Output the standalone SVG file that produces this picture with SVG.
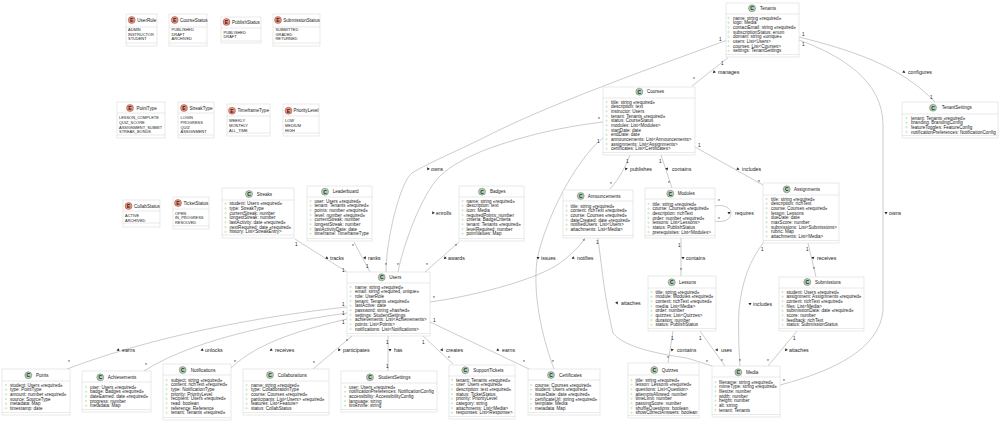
<svg xmlns="http://www.w3.org/2000/svg" width="1000" height="422" viewBox="0 0 1000 422">
<style>
text{font-family:"Liberation Sans",Arial,sans-serif;fill:#222}
.b{fill:#fff;stroke:#cfcfcf;stroke-width:.45}
.s{fill:none;stroke:#cfcfcf;stroke-width:.45}
.n{font-size:4.55px}
.r{font-size:4.57px}
.e{font-size:3.95px}
.ci{fill:#ADD1B2;stroke:#555;stroke-width:.4}
.ei{fill:#EB937F;stroke:#8a2a2a;stroke-width:.4}
.l{font-size:5px;font-weight:bold;text-anchor:middle}
.c path{fill:none;stroke:#8c8c8c;stroke-width:.45}
.m{font-size:4.7px}
.t{font-size:5.2px}
.mk{fill:none;stroke:#84BE84;stroke-width:.35}
.a{fill:#222}
</style>
<defs>
<circle id="c1" class="mk" r=".75"/>
<g id="r2"><use href="#c1"/><use href="#c1" y="4.67"/></g>
<g id="r4"><use href="#r2"/><use href="#r2" y="9.34"/></g>
<g id="r5"><use href="#r4"/><use href="#c1" y="18.68"/></g>
<g id="r6"><use href="#r4"/><use href="#r2" y="18.68"/></g>
<g id="r7"><use href="#r6"/><use href="#c1" y="28.02"/></g>
<g id="r8"><use href="#r4"/><use href="#r4" y="18.68"/></g>
<g id="r9"><use href="#r8"/><use href="#c1" y="37.36"/></g>
<g id="r10"><use href="#r8"/><use href="#r2" y="37.36"/></g>
<g id="r11"><use href="#r10"/><use href="#c1" y="46.7"/></g>
<polygon id="t" class="a" points="0,-1.6 1.5,1.1 -1.5,1.1"/>
</defs>
<rect width="1000" height="422" fill="#fff"/>
<g id="connectors" class="c">
<path d="M728 57.7L692 86"/>
<path d="M726 40.5C660 65 560 100 493 133C460 150 430 162 412 173C400 182 386 240 386 272"/>
<path d="M603 122C560 127 525 136 493 147C470 155 450 166 440 176C420 196 402 250 398 272"/>
<path d="M459 242L425 272"/>
<path d="M295 239L347 272"/>
<path d="M354 242L370 272"/>
<path d="M347 307C290 313 170 330 67 369"/>
<path d="M347 313C300 320 200 335 144 371"/>
<path d="M347 319C310 328 260 340 231 368"/>
<path d="M352 336L313 369"/>
<path d="M388 336V371"/>
<path d="M423 336L453 364"/>
<path d="M430 322L529 369"/>
<path d="M430 302C480 295 540 278 560 263C572 254 580 246 585 238"/>
<path d="M630 155C626 165 620 178 610 189"/>
<path d="M661 155L672 188"/>
<path d="M695 147L763 185"/>
<path d="M603 138C575 160 545 220 537 260C532 300 545 345 554 369"/>
<path d="M598 238C602 270 605 300 613 333C622 345 650 353 687 358L712 366"/>
<path d="M715 206C724 204 731 208 731 213.500C731 219 724 223 715 221"/>
<path d="M681 238V276"/>
<path d="M764 242C750 260 742 280 739 310C738 330 739 350 740 366"/>
<path d="M808 243L816 277"/>
<path d="M797 331L768 366"/>
<path d="M673 331L668 363"/>
<path d="M700 331L725 366"/>
<path d="M799 37C850 50 900 65 935 102"/>
<path d="M799 40C840 55 883 80 883 125V310C880 350 830 372 780 385"/>
<g class="mt">
<text class="m" x="721" y="65">1</text><text class="m" x="693" y="81">*</text>
<text class="m" x="719" y="41">1</text><text class="m" x="385" y="267">*</text>
<text class="m" x="598" y="121">*</text><text class="m" x="397" y="267">*</text>
<text class="m" x="455" y="248">*</text><text class="m" x="426" y="267">*</text>
<text class="m" x="295" y="246">1</text><text class="m" x="342" y="272">1</text>
<text class="m" x="352" y="248">*</text><text class="m" x="366" y="268">1</text>
<text class="m" x="342" y="306">1</text><text class="m" x="68" y="364">*</text>
<text class="m" x="342" y="315">1</text><text class="m" x="145" y="367">*</text>
<text class="m" x="342" y="324">1</text><text class="m" x="234" y="364">*</text>
<text class="m" x="346" y="343">*</text><text class="m" x="313" y="365">*</text>
<text class="m" x="386" y="344">1</text><text class="m" x="386" y="368">1</text>
<text class="m" x="422" y="344">1</text><text class="m" x="448" y="360">*</text>
<text class="m" x="433" y="322">1</text><text class="m" x="523" y="364">*</text>
<text class="m" x="433" y="300">*</text><text class="m" x="583" y="243">*</text>
<text class="m" x="626" y="163">1</text><text class="m" x="610" y="186">*</text>
<text class="m" x="659" y="163">1</text><text class="m" x="668" y="185">*</text>
<text class="m" x="698" y="147">1</text><text class="m" x="758" y="184">*</text>
<text class="m" x="597" y="143">1</text><text class="m" x="552" y="364">*</text>
<text class="m" x="596" y="244">1</text><text class="m" x="706" y="364">*</text>
<text class="m" x="718" y="203">*</text><text class="m" x="718" y="221">*</text>
<text class="m" x="678" y="247">1</text><text class="m" x="680" y="272">*</text>
<text class="m" x="761" y="251">1</text><text class="m" x="739" y="363">*</text>
<text class="m" x="806" y="251">1</text><text class="m" x="813" y="271">*</text>
<text class="m" x="793" y="340">1</text><text class="m" x="767" y="363">*</text>
<text class="m" x="671" y="340">1</text><text class="m" x="667" y="360">*</text>
<text class="m" x="699" y="340">1</text><text class="m" x="721" y="363">*</text>
<text class="m" x="802" y="36">1</text><text class="m" x="930" y="99">1</text>
<text class="m" x="802" y="46">1</text><text class="m" x="783" y="383">*</text>
</g>
<g class="lb">
<use href="#t" transform="translate(714 72) rotate(225)"/><text class="t" x="718" y="73.800">manages</text>
<use href="#t" transform="translate(428 169) rotate(215)"/><text class="t" x="431" y="170.800">owns</text>
<use href="#t" transform="translate(433 213) rotate(215)"/><text class="t" x="436" y="214.800">enrolls</text>
<use href="#t" transform="translate(445 258) rotate(225)"/><text class="t" x="448" y="259.800">awards</text>
<use href="#t" transform="translate(327 258) rotate(125)"/><text class="t" x="330" y="259.800">tracks</text>
<use href="#t" transform="translate(365 258) rotate(155)"/><text class="t" x="368" y="259.800">ranks</text>
<use href="#t" transform="translate(118 350) rotate(250)"/><text class="t" x="122" y="351.800">earns</text>
<use href="#t" transform="translate(202 350) rotate(250)"/><text class="t" x="205" y="351.800">unlocks</text>
<use href="#t" transform="translate(271 350) rotate(235)"/><text class="t" x="275" y="351.800">receives</text>
<use href="#t" transform="translate(339 350) rotate(220)"/><text class="t" x="343" y="351.800">participates</text>
<use href="#t" transform="translate(390 350) rotate(180)"/><text class="t" x="394" y="351.800">has</text>
<use href="#t" transform="translate(442 350) rotate(145)"/><text class="t" x="446" y="351.800">creates</text>
<use href="#t" transform="translate(498 350) rotate(120)"/><text class="t" x="502" y="351.800">earns</text>
<use href="#t" transform="translate(573 258) rotate(240)"/><text class="t" x="577" y="259.800">notifies</text>
<use href="#t" transform="translate(626 169) rotate(200)"/><text class="t" x="630" y="170.800">publishes</text>
<use href="#t" transform="translate(667 169) rotate(160)"/><text class="t" x="672" y="170.800">contains</text>
<use href="#t" transform="translate(738 169) rotate(120)"/><text class="t" x="742" y="170.800">includes</text>
<use href="#t" transform="translate(538 258) rotate(180)"/><text class="t" x="541" y="259.800">issues</text>
<use href="#t" transform="translate(617 303) rotate(150)"/><text class="t" x="621" y="304.800">attaches</text>
<use href="#t" transform="translate(729 213) rotate(180)"/><text class="t" x="735" y="214.800">requires</text>
<use href="#t" transform="translate(683 258) rotate(180)"/><text class="t" x="686" y="259.800">contains</text>
<use href="#t" transform="translate(750 304) rotate(180)"/><text class="t" x="753" y="305.800">includes</text>
<use href="#t" transform="translate(813 258) rotate(170)"/><text class="t" x="817" y="259.800">receives</text>
<use href="#t" transform="translate(786 350) rotate(220)"/><text class="t" x="789" y="351.800">attaches</text>
<use href="#t" transform="translate(672 350) rotate(190)"/><text class="t" x="677" y="351.800">contains</text>
<use href="#t" transform="translate(717 350) rotate(145)"/><text class="t" x="721" y="351.800">uses</text>
<use href="#t" transform="translate(904 72) rotate(125)"/><text class="t" x="908" y="73.800">configures</text>
<use href="#t" transform="translate(886 213) rotate(180)"/><text class="t" x="889" y="214.800">owns</text>
</g>
</g>

<g id="UserRole"><rect class="b" x="126" y="14" width="31" height="32"/><path class="s" d="M126 27H157M126 43H157"/><circle class="ei" cx="131.700" cy="20" r="3.500"/><text class="l" x="131.700" y="21.800">E</text><text class="n" x="137.300" y="21.600">UserRole</text><text class="e"><tspan x="128" y="31">ADMIN</tspan><tspan x="128" dy="4.67">INSTRUCTOR</tspan><tspan x="128" dy="4.67">STUDENT</tspan></text></g>
<g id="CourseStatus"><rect class="b" x="169" y="14" width="38" height="32"/><path class="s" d="M169 27H207M169 43H207"/><circle class="ei" cx="174.700" cy="20" r="3.500"/><text class="l" x="174.700" y="21.800">E</text><text class="n" x="180" y="21.600">CourseStatus</text><text class="e"><tspan x="171.500" y="31">PUBLISHED</tspan><tspan x="171.500" dy="4.67">DRAFT</tspan><tspan x="171.500" dy="4.67">ARCHIVED</tspan></text></g>
<g id="PublishStatus"><rect class="b" x="221" y="17" width="40" height="26"/><path class="s" d="M221 28H261M221 41H261"/><circle class="ei" cx="226.500" cy="22" r="3.500"/><text class="l" x="226.500" y="23.800">E</text><text class="n" x="232" y="23.600">PublishStatus</text><text class="e"><tspan x="223.500" y="33.800">PUBLISHED</tspan><tspan x="223.500" dy="4.67">DRAFT</tspan></text></g>
<g id="SubmissionStatus"><rect class="b" x="273" y="14" width="47" height="32"/><path class="s" d="M273 27H320M273 43H320"/><circle class="ei" cx="278" cy="20" r="3.500"/><text class="l" x="278" y="21.800">E</text><text class="n" x="283.300" y="21.600">SubmissionStatus</text><text class="e"><tspan x="275.500" y="31">SUBMITTED</tspan><tspan x="275.500" dy="4.67">GRADED</tspan><tspan x="275.500" dy="4.67">RETURNED</tspan></text></g>
<g id="PointType"><rect class="b" x="117" y="102" width="48" height="36"/><path class="s" d="M117 113H165M117 135H165"/><circle class="ei" cx="130" cy="108" r="3.500"/><text class="l" x="130" y="109.800">E</text><text class="n" x="136.500" y="109.600">PointType</text><text class="e"><tspan x="119" y="119.200">LESSON_COMPLETE</tspan><tspan x="119" dy="4.67">QUIZ_SCORE</tspan><tspan x="119" dy="4.67">ASSIGNMENT_SUBMIT</tspan><tspan x="119" dy="4.67">STREAK_BONUS</tspan></text></g>
<g id="StreakType"><rect class="b" x="178" y="102" width="36" height="36"/><path class="s" d="M178 113H214M178 135H214"/><circle class="ei" cx="184" cy="108" r="3.500"/><text class="l" x="184" y="109.800">E</text><text class="n" x="189.500" y="109.600">StreakType</text><text class="e"><tspan x="180.500" y="119.200">LOGIN</tspan><tspan x="180.500" dy="4.67">PROGRESS</tspan><tspan x="180.500" dy="4.67">QUIZ</tspan><tspan x="180.500" dy="4.67">ASSIGNMENT</tspan></text></g>
<g id="TimeframeType"><rect class="b" x="227" y="104" width="43" height="32"/><path class="s" d="M227 116H270M227 133H270"/><circle class="ei" cx="232" cy="110.700" r="3.500"/><text class="l" x="232" y="112.500">E</text><text class="n" x="237.500" y="112.300">TimeframeType</text><text class="e"><tspan x="229" y="122.200">WEEKLY</tspan><tspan x="229" dy="4.67">MONTHLY</tspan><tspan x="229" dy="4.67">ALL_TIME</tspan></text></g>
<g id="PriorityLevel"><rect class="b" x="283" y="104" width="36" height="32"/><path class="s" d="M283 116H319M283 133H319"/><circle class="ei" cx="288.500" cy="110.700" r="3.500"/><text class="l" x="288.500" y="112.500">E</text><text class="n" x="293.500" y="112.300">PriorityLevel</text><text class="e"><tspan x="285" y="122.200">LOW</tspan><tspan x="285" dy="4.67">MEDIUM</tspan><tspan x="285" dy="4.67">HIGH</tspan></text></g>
<g id="CollabStatus"><rect class="b" x="123" y="200" width="37" height="27"/><path class="s" d="M123 211H160M123 223H160"/><circle class="ei" cx="128.500" cy="206" r="3.500"/><text class="l" x="128.500" y="207.800">E</text><text class="n" x="134" y="207.600">CollabStatus</text><text class="e"><tspan x="125" y="217.200">ACTIVE</tspan><tspan x="125" dy="4.67">ARCHIVED</tspan></text></g>
<g id="TicketStatus"><rect class="b" x="173" y="197" width="36" height="32"/><path class="s" d="M173 209H209M173 226H209"/><circle class="ei" cx="178" cy="203" r="3.500"/><text class="l" x="178" y="204.800">E</text><text class="n" x="183.500" y="204.600">TicketStatus</text><text class="e"><tspan x="175" y="214.800">OPEN</tspan><tspan x="175" dy="4.67">IN_PROGRESS</tspan><tspan x="175" dy="4.67">RESOLVED</tspan></text></g>

<g id="Tenants"><rect class="b" x="726" y="3" width="73" height="54"/><path class="s" d="M726 14H799M726 54.500H799"/><circle class="ci" cx="752" cy="8.300" r="3.500"/><text class="l" x="752" y="10.100">C</text><text class="n" x="760" y="9.900">Tenants</text><use href="#r8" x="728.500" y="18"/><text class="r"><tspan x="733" y="19.600">name: string «required»</tspan><tspan x="733" dy="4.67">logo: Media</tspan><tspan x="733" dy="4.67">contactEmail: string «required»</tspan><tspan x="733" dy="4.67">subscriptionStatus: enum</tspan><tspan x="733" dy="4.67">domain: string «unique»</tspan><tspan x="733" dy="4.67">users: List&lt;Users&gt;</tspan><tspan x="733" dy="4.67">courses: List&lt;Courses&gt;</tspan><tspan x="733" dy="4.67">settings: TenantSettings</tspan></text></g>
<g id="Courses"><rect class="b" x="603" y="87" width="92" height="68"/><path class="s" d="M603 98H695M603 152.500H695"/><circle class="ci" cx="639.300" cy="91.700" r="3.500"/><text class="l" x="639.300" y="93.500">C</text><text class="n" x="647" y="93.300">Courses</text><use href="#r11" x="606.500" y="102"/><text class="r"><tspan x="611" y="103.600">title: string «required»</tspan><tspan x="611" dy="4.67">description: text</tspan><tspan x="611" dy="4.67">instructor: Users</tspan><tspan x="611" dy="4.67">tenant: Tenants «required»</tspan><tspan x="611" dy="4.67">status: CourseStatus</tspan><tspan x="611" dy="4.67">modules: List&lt;Modules&gt;</tspan><tspan x="611" dy="4.67">startDate: date</tspan><tspan x="611" dy="4.67">endDate: date</tspan><tspan x="611" dy="4.67">announcements: List&lt;Announcements&gt;</tspan><tspan x="611" dy="4.67">assignments: List&lt;Assignments&gt;</tspan><tspan x="611" dy="4.67">certificates: List&lt;Certificates&gt;</tspan></text></g>
<g id="TenantSettings"><rect class="b" x="902" y="102" width="96" height="36"/><path class="s" d="M902 114H998M902 135.500H998"/><circle class="ci" cx="933" cy="107.700" r="3.500"/><text class="l" x="933" y="109.500">C</text><text class="n" x="941.700" y="109.300">TenantSettings</text><use href="#r4" x="906.500" y="118"/><text class="r"><tspan x="911" y="119.600">tenant: Tenants «required»</tspan><tspan x="911" dy="4.67">branding: BrandingConfig</tspan><tspan x="911" dy="4.67">featureToggles: FeatureConfig</tspan><tspan x="911" dy="4.67">notificationPreferences: NotificationConfig</tspan></text></g>
<g id="Announcements"><rect class="b" x="563" y="190" width="70" height="48"/><path class="s" d="M563 201H633M563 235.500H633"/><circle class="ci" cx="580.700" cy="196" r="3.500"/><text class="l" x="580.700" y="197.800">C</text><text class="n" x="587.700" y="197.600">Announcements</text><use href="#r6" x="566.500" y="206"/><text class="r"><tspan x="570.500" y="207.600">title: string «required»</tspan><tspan x="570.500" dy="4.67">content: richText «required»</tspan><tspan x="570.500" dy="4.67">course: Courses «required»</tspan><tspan x="570.500" dy="4.67">dateCreated: date «required»</tspan><tspan x="570.500" dy="4.67">notifiedUsers: List&lt;Users&gt;</tspan><tspan x="570.500" dy="4.67">attachments: List&lt;Media&gt;</tspan></text></g>
<g id="Modules"><rect class="b" x="645" y="188" width="70" height="50"/><path class="s" d="M645 199H715M645 235.500H715"/><circle class="ci" cx="670.300" cy="193.700" r="3.500"/><text class="l" x="670.300" y="195.500">C</text><text class="n" x="677.700" y="195.300">Modules</text><use href="#r7" x="648.500" y="204"/><text class="r"><tspan x="652.500" y="205.600">title: string «required»</tspan><tspan x="652.500" dy="4.67">course: Courses «required»</tspan><tspan x="652.500" dy="4.67">description: richText</tspan><tspan x="652.500" dy="4.67">order: number «required»</tspan><tspan x="652.500" dy="4.67">lessons: List&lt;Lessons&gt;</tspan><tspan x="652.500" dy="4.67">status: PublishStatus</tspan><tspan x="652.500" dy="4.67">prerequisites: List&lt;Modules&gt;</tspan></text></g>
<g id="Assignments"><rect class="b" x="763" y="183" width="76" height="60"/><path class="s" d="M763 195H839M763 240.500H839"/><circle class="ci" cx="786.700" cy="189.300" r="3.500"/><text class="l" x="786.700" y="191.100">C</text><text class="n" x="794" y="190.900">Assignments</text><use href="#r9" x="766.500" y="199"/><text class="r"><tspan x="771" y="200.600">title: string «required»</tspan><tspan x="771" dy="4.67">description: richText</tspan><tspan x="771" dy="4.67">course: Courses «required»</tspan><tspan x="771" dy="4.67">lesson: Lessons</tspan><tspan x="771" dy="4.67">dueDate: date</tspan><tspan x="771" dy="4.67">maxScore: number</tspan><tspan x="771" dy="4.67">submissions: List&lt;Submissions&gt;</tspan><tspan x="771" dy="4.67">rubric: Map</tspan><tspan x="771" dy="4.67">attachments: List&lt;Media&gt;</tspan></text></g>
<g id="Lessons"><rect class="b" x="648" y="276" width="68" height="55"/><path class="s" d="M648 288H716M648 328.500H716"/><circle class="ci" cx="671.700" cy="282.300" r="3.500"/><text class="l" x="671.700" y="284.100">C</text><text class="n" x="679" y="283.900">Lessons</text><use href="#r8" x="651.500" y="292"/><text class="r"><tspan x="655.500" y="293.600">title: string «required»</tspan><tspan x="655.500" dy="4.67">module: Modules «required»</tspan><tspan x="655.500" dy="4.67">content: richText «required»</tspan><tspan x="655.500" dy="4.67">media: List&lt;Media&gt;</tspan><tspan x="655.500" dy="4.67">order: number</tspan><tspan x="655.500" dy="4.67">quizzes: List&lt;Quizzes&gt;</tspan><tspan x="655.500" dy="4.67">duration: number</tspan><tspan x="655.500" dy="4.67">status: PublishStatus</tspan></text></g>
<g id="Submissions"><rect class="b" x="779" y="277" width="85" height="54"/><path class="s" d="M779 288H864M779 328.500H864"/><circle class="ci" cx="807.300" cy="282" r="3.500"/><text class="l" x="807.300" y="283.800">C</text><text class="n" x="815" y="283.600">Submissions</text><use href="#r8" x="782.500" y="292"/><text class="r"><tspan x="786.500" y="293.600">student: Users «required»</tspan><tspan x="786.500" dy="4.67">assignment: Assignments «required»</tspan><tspan x="786.500" dy="4.67">content: richText «required»</tspan><tspan x="786.500" dy="4.67">files: List&lt;Media&gt;</tspan><tspan x="786.500" dy="4.67">submissionDate: date «required»</tspan><tspan x="786.500" dy="4.67">score: number</tspan><tspan x="786.500" dy="4.67">feedback: richText</tspan><tspan x="786.500" dy="4.67">status: SubmissionStatus</tspan></text></g>
<g id="Media"><rect class="b" x="712" y="366" width="68" height="51"/><path class="s" d="M712 377H780M712 414.500H780"/><circle class="ci" cx="738.300" cy="372.300" r="3.500"/><text class="l" x="738.300" y="374.100">C</text><text class="n" x="746" y="373.900">Media</text><use href="#r7" x="715.500" y="382"/><text class="r"><tspan x="719" y="383.600">filename: string «required»</tspan><tspan x="719" dy="4.67">mimeType: string «required»</tspan><tspan x="719" dy="4.67">filesize: number</tspan><tspan x="719" dy="4.67">width: number</tspan><tspan x="719" dy="4.67">height: number</tspan><tspan x="719" dy="4.67">alt: string</tspan><tspan x="719" dy="4.67">tenant: Tenants</tspan></text></g>
<g id="Quizzes"><rect class="b" x="628" y="363" width="71" height="55"/><path class="s" d="M628 375H699M628 415.500H699"/><circle class="ci" cx="654.300" cy="370" r="3.500"/><text class="l" x="654.300" y="371.800">C</text><text class="n" x="661.700" y="371.600">Quizzes</text><use href="#r8" x="631.500" y="380"/><text class="r"><tspan x="635.500" y="381.600">title: string «required»</tspan><tspan x="635.500" dy="4.67">lesson: Lessons «required»</tspan><tspan x="635.500" dy="4.67">questions: List&lt;Question&gt;</tspan><tspan x="635.500" dy="4.67">attemptsAllowed: number</tspan><tspan x="635.500" dy="4.67">timeLimit: number</tspan><tspan x="635.500" dy="4.67">passingScore: number</tspan><tspan x="635.500" dy="4.67">shuffleQuestions: boolean</tspan><tspan x="635.500" dy="4.67">showCorrectAnswers: boolean</tspan></text></g>
<g id="Points"><rect class="b" x="2" y="369" width="68" height="46"/><path class="s" d="M2 381H70M2 412.500H70"/><circle class="ci" cx="28.300" cy="375.300" r="3.500"/><text class="l" x="28.300" y="377.100">C</text><text class="n" x="36" y="376.900">Points</text><use href="#r6" x="6" y="385"/><text class="r"><tspan x="10" y="386.600">student: Users «required»</tspan><tspan x="10" dy="4.67">type: PointType</tspan><tspan x="10" dy="4.67">amount: number «required»</tspan><tspan x="10" dy="4.67">source: SourceType</tspan><tspan x="10" dy="4.67">metadata: Map</tspan><tspan x="10" dy="4.67">timestamp: date</tspan></text></g>
<g id="Achievements"><rect class="b" x="82" y="371" width="69" height="41"/><path class="s" d="M82 382H151M82 409.500H151"/><circle class="ci" cx="100.300" cy="377.300" r="3.500"/><text class="l" x="100.300" y="379.100">C</text><text class="n" x="107.700" y="378.900">Achievements</text><use href="#r5" x="86" y="387"/><text class="r"><tspan x="90" y="388.600">user: Users «required»</tspan><tspan x="90" dy="4.67">badge: Badges «required»</tspan><tspan x="90" dy="4.67">dateEarned: date «required»</tspan><tspan x="90" dy="4.67">progress: number</tspan><tspan x="90" dy="4.67">metadata: Map</tspan></text></g>
<g id="Notifications"><rect class="b" x="163" y="364" width="68" height="56"/><path class="s" d="M163 375H231M163 417.500H231"/><circle class="ci" cx="182.700" cy="370" r="3.500"/><text class="l" x="182.700" y="371.800">C</text><text class="n" x="190.700" y="371.600">Notifications</text><use href="#r8" x="166.500" y="380"/><text class="r"><tspan x="171" y="381.600">subject: string «required»</tspan><tspan x="171" dy="4.67">content: richText «required»</tspan><tspan x="171" dy="4.67">type: NotificationType</tspan><tspan x="171" dy="4.67">priority: PriorityLevel</tspan><tspan x="171" dy="4.67">recipient: Users «required»</tspan><tspan x="171" dy="4.67">read: boolean</tspan><tspan x="171" dy="4.67">reference: Reference</tspan><tspan x="171" dy="4.67">tenant: Tenants «required»</tspan></text></g>
<g id="Collaborations"><rect class="b" x="243" y="369" width="86" height="46"/><path class="s" d="M243 381H329M243 412.500H329"/><circle class="ci" cx="270" cy="375" r="3.500"/><text class="l" x="270" y="376.800">C</text><text class="n" x="277.700" y="376.600">Collaborations</text><use href="#r6" x="246.500" y="385"/><text class="r"><tspan x="251" y="386.600">name: string «required»</tspan><tspan x="251" dy="4.67">type: CollaborationType</tspan><tspan x="251" dy="4.67">course: Courses «required»</tspan><tspan x="251" dy="4.67">participants: List&lt;Users&gt; «required»</tspan><tspan x="251" dy="4.67">features: List&lt;Feature&gt;</tspan><tspan x="251" dy="4.67">status: CollabStatus</tspan></text></g>
<g id="StudentSettings"><rect class="b" x="341" y="371" width="96" height="41"/><path class="s" d="M341 383H437M341 409.500H437"/><circle class="ci" cx="370" cy="377.300" r="3.500"/><text class="l" x="370" y="379.100">C</text><text class="n" x="378.300" y="378.900">StudentSettings</text><use href="#r5" x="345" y="387"/><text class="r"><tspan x="349" y="388.600">user: Users «required»</tspan><tspan x="349" dy="4.67">notificationPreferences: NotificationConfig</tspan><tspan x="349" dy="4.67">accessibility: AccessibilityConfig</tspan><tspan x="349" dy="4.67">language: string</tspan><tspan x="349" dy="4.67">timezone: string</tspan></text></g>
<g id="SupportTickets"><rect class="b" x="449" y="365" width="66" height="54"/><path class="s" d="M449 376H515M449 416.500H515"/><circle class="ci" cx="465.300" cy="370.300" r="3.500"/><text class="l" x="465.300" y="372.100">C</text><text class="n" x="473.300" y="371.900">SupportTickets</text><use href="#r8" x="452" y="380"/><text class="r"><tspan x="456" y="381.600">tenant: Tenants «required»</tspan><tspan x="456" dy="4.67">user: Users «required»</tspan><tspan x="456" dy="4.67">description: text «required»</tspan><tspan x="456" dy="4.67">status: TicketStatus</tspan><tspan x="456" dy="4.67">priority: PriorityLevel</tspan><tspan x="456" dy="4.67">category: string</tspan><tspan x="456" dy="4.67">attachments: List&lt;Media&gt;</tspan><tspan x="456" dy="4.67">responses: List&lt;Response&gt;</tspan></text></g>
<g id="Certificates"><rect class="b" x="528" y="369" width="72" height="46"/><path class="s" d="M528 380H600M528 412.500H600"/><circle class="ci" cx="551" cy="375" r="3.500"/><text class="l" x="551" y="376.800">C</text><text class="n" x="559" y="376.600">Certificates</text><use href="#r6" x="531" y="385"/><text class="r"><tspan x="535" y="386.600">course: Courses «required»</tspan><tspan x="535" dy="4.67">student: Users «required»</tspan><tspan x="535" dy="4.67">issueDate: date «required»</tspan><tspan x="535" dy="4.67">certificateUrl: string «required»</tspan><tspan x="535" dy="4.67">template: Media</tspan><tspan x="535" dy="4.67">metadata: Map</tspan></text></g>
<g id="Users"><rect class="b" x="347" y="272" width="83" height="64"/><path class="s" d="M347 283H430M347 333.500H430"/><circle class="ci" cx="381.700" cy="277.300" r="3.500"/><text class="l" x="381.700" y="279.100">C</text><text class="n" x="389.300" y="278.900">Users</text><use href="#r10" x="350.500" y="287"/><text class="r"><tspan x="355" y="288.600">name: string «required»</tspan><tspan x="355" dy="4.67">email: string «required, unique»</tspan><tspan x="355" dy="4.67">role: UserRole</tspan><tspan x="355" dy="4.67">tenant: Tenants «required»</tspan><tspan x="355" dy="4.67">lastActive: date</tspan><tspan x="355" dy="4.67">password: string «hashed»</tspan><tspan x="355" dy="4.67">settings: StudentSettings</tspan><tspan x="355" dy="4.67">achievements: List&lt;Achievements&gt;</tspan><tspan x="355" dy="4.67">points: List&lt;Points&gt;</tspan><tspan x="355" dy="4.67">notifications: List&lt;Notifications&gt;</tspan></text></g>
<g id="Streaks"><rect class="b" x="222" y="188" width="72" height="50"/><path class="s" d="M222 200H294M222 235H294"/><circle class="ci" cx="249" cy="194" r="3.500"/><text class="l" x="249" y="195.800">C</text><text class="n" x="256.700" y="195.600">Streaks</text><use href="#r7" x="225.500" y="203.700"/><text class="r"><tspan x="229.500" y="205.300">student: Users «required»</tspan><tspan x="229.500" dy="4.67">type: StreakType</tspan><tspan x="229.500" dy="4.67">currentStreak: number</tspan><tspan x="229.500" dy="4.67">longestStreak: number</tspan><tspan x="229.500" dy="4.67">lastActivity: date «required»</tspan><tspan x="229.500" dy="4.67">nextRequired: date «required»</tspan><tspan x="229.500" dy="4.67">history: List&lt;StreakEntry&gt;</tspan></text></g>
<g id="Leaderboard"><rect class="b" x="307" y="186" width="65" height="55"/><path class="s" d="M307 197H372M307 238.500H372"/><circle class="ci" cx="325" cy="191.700" r="3.500"/><text class="l" x="325" y="193.500">C</text><text class="n" x="332.700" y="193.300">Leaderboard</text><use href="#r8" x="310.500" y="201"/><text class="r"><tspan x="314.500" y="202.600">user: Users «required»</tspan><tspan x="314.500" dy="4.67">tenant: Tenants «required»</tspan><tspan x="314.500" dy="4.67">points: number «required»</tspan><tspan x="314.500" dy="4.67">level: number «required»</tspan><tspan x="314.500" dy="4.67">currentStreak: number</tspan><tspan x="314.500" dy="4.67">longestStreak: number</tspan><tspan x="314.500" dy="4.67">lastActivityDate: date</tspan><tspan x="314.500" dy="4.67">timeframe: TimeframeType</tspan></text></g>
<g id="Badges"><rect class="b" x="459" y="186" width="65" height="55"/><path class="s" d="M459 197H524M459 238.500H524"/><circle class="ci" cx="482" cy="191.700" r="3.500"/><text class="l" x="482" y="193.500">C</text><text class="n" x="490" y="193.300">Badges</text><use href="#r8" x="462.500" y="201"/><text class="r"><tspan x="466.500" y="202.600">name: string «required»</tspan><tspan x="466.500" dy="4.67">description: text</tspan><tspan x="466.500" dy="4.67">icon: Media</tspan><tspan x="466.500" dy="4.67">requiredPoints: number</tspan><tspan x="466.500" dy="4.67">criteria: BadgeCriteria</tspan><tspan x="466.500" dy="4.67">tenant: Tenants «required»</tspan><tspan x="466.500" dy="4.67">levelRequired: number</tspan><tspan x="466.500" dy="4.67">pointValues: Map</tspan></text></g>
</svg>
